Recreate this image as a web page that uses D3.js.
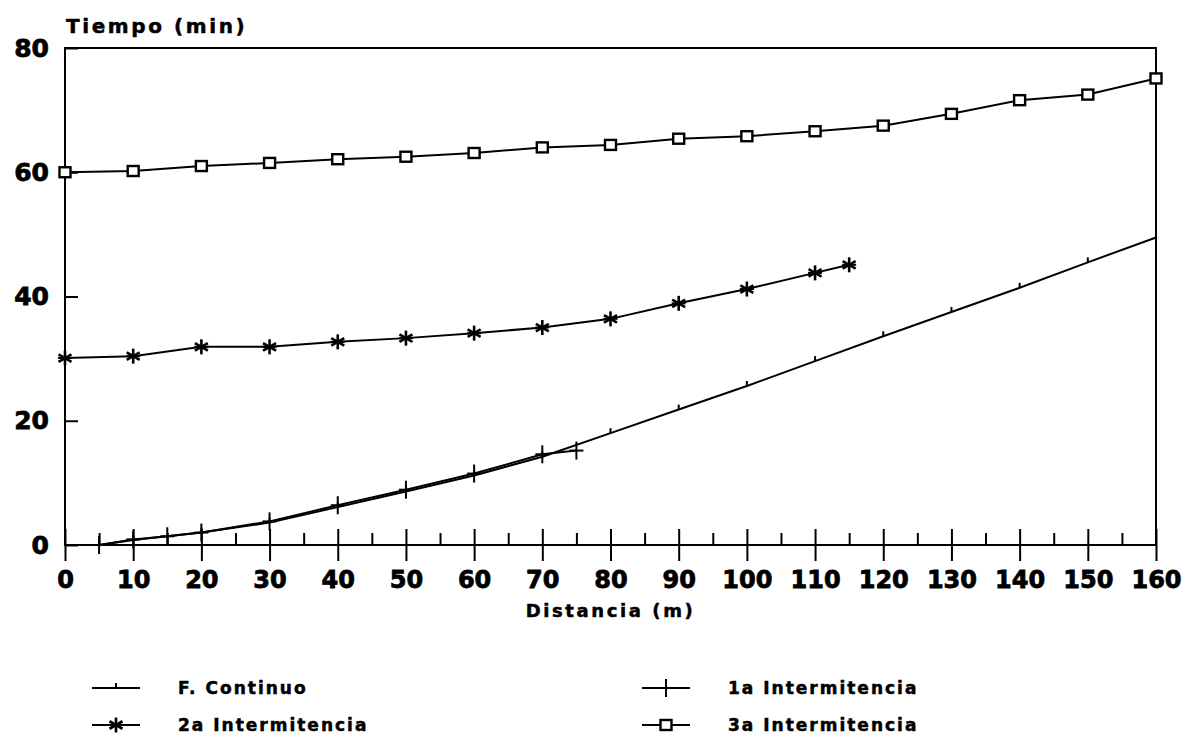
<!DOCTYPE html>
<html>
<head>
<meta charset="utf-8">
<script src="https://cdn.jsdelivr.net/npm/d3@7"></script>
<style>
  body { margin: 0; background: #fff; }
  text { font-family: "DejaVu Sans", sans-serif; font-weight: bold; fill: #000; }
</style>
</head>
<body>
<div id="chart"></div>
<script>

var svgWidth = 1184;
var svgHeight = 746;

var margin = { top: 48, right: 28, bottom: 201, left: 65 };
var width = svgWidth - margin.left - margin.right;
var height = svgHeight - margin.top - margin.bottom;

// data
var xTicks = [0, 10, 20, 30, 40, 50, 60, 70, 80, 90, 100, 110, 120, 130, 140, 150, 160];
var yTicks = [0, 20, 40, 60, 80];

var contDist = [5, 10, 20, 30, 40, 50, 60, 70, 80, 90, 100, 110, 120, 130, 140, 150, 160];
var contTime = [0, 0.8, 2, 3.6, 6.1, 8.6, 11.2, 14.2, 18, 21.8, 25.6, 29.6, 33.6, 37.5, 41.4, 45.5, 49.5];

var int1Dist = [5, 10, 15, 20, 30, 40, 50, 60, 70, 75];
var int1Time = [0, 0.9, 1.4, 2, 3.8, 6.4, 8.9, 11.5, 14.6, 15.2];

var int2Dist = [0, 10, 20, 30, 40, 50, 60, 70, 80, 90, 100, 110, 115];
var int2Time = [30.1, 30.4, 31.9, 31.9, 32.7, 33.3, 34.1, 35, 36.4, 38.9, 41.2, 43.8, 45.1];

var int3Dist = [0, 10, 20, 30, 40, 50, 60, 70, 80, 90, 100, 110, 120, 130, 140, 150, 160];
var int3Time = [60, 60.2, 61, 61.5, 62.1, 62.5, 63.1, 64, 64.4, 65.4, 65.8, 66.6, 67.5, 69.4, 71.6, 72.5, 75.1];

var seriesNames = ["F. Continuo", "1a Intermitencia", "2a Intermitencia", "3a Intermitencia"];

var series = [
    { name: seriesNames[0], marker: "tick", xs: contDist, ys: contTime },
    { name: seriesNames[1], marker: "plus", xs: int1Dist, ys: int1Time },
    { name: seriesNames[2], marker: "star", xs: int2Dist, ys: int2Time },
    { name: seriesNames[3], marker: "square", xs: int3Dist, ys: int3Time }
];

var svg = d3.select("#chart")
    .append("svg")
    .attr("width", svgWidth)
    .attr("height", svgHeight);

var chartGroup = svg.append("g")
    .attr("transform", `translate(${margin.left}, ${margin.top})`);

var xLinearScale = d3.scaleLinear().domain([0, 160]).range([0, width]);
var yLinearScale = d3.scaleLinear().domain([0, 80]).range([height, 0]);

// frame
chartGroup.append("rect")
    .attr("x", 0).attr("y", 0)
    .attr("width", width).attr("height", height)
    .attr("fill", "none")
    .attr("stroke", "#000")
    .attr("stroke-width", 2);

// x axis, major ticks cross the axis line
var bottomAxis = d3.axisBottom(xLinearScale)
    .tickValues(xTicks)
    .tickFormat(d3.format("d"))
    .tickSize(16)
    .tickPadding(10);

var xAxis = chartGroup.append("g")
    .attr("transform", `translate(0, ${height})`)
    .call(bottomAxis);

xAxis.select(".domain").remove();
xAxis.selectAll(".tick line")
    .attr("y1", -16)
    .attr("stroke-width", 2);
xAxis.selectAll(".tick text")
    .style("font-size", "24px")
    .style("font-family", "DejaVu Sans")
    .style("font-weight", "bold")
    .attr("stroke", "#000")
    .attr("stroke-width", 0.8);

// minor ticks at the fives, inside only
var minorAxis = d3.axisBottom(xLinearScale)
    .tickValues(d3.range(5, 160, 10))
    .tickFormat("")
    .tickSize(-12);

var xMinor = chartGroup.append("g")
    .attr("transform", `translate(0, ${height})`)
    .call(minorAxis);
xMinor.select(".domain").remove();
xMinor.selectAll(".tick line").attr("stroke-width", 2);

// y axis, ticks point inward
var leftAxis = d3.axisLeft(yLinearScale)
    .tickValues(yTicks)
    .tickSize(-13)
    .tickPadding(16);

var yAxis = chartGroup.append("g").call(leftAxis);
yAxis.select(".domain").remove();
yAxis.selectAll(".tick line").attr("stroke-width", 2);
yAxis.selectAll(".tick text")
    .style("font-size", "25px")
    .style("font-family", "DejaVu Sans")
    .style("font-weight", "bold")
    .attr("stroke", "#000")
    .attr("stroke-width", 0.8);

// axis titles
svg.append("text")
    .attr("x", 66)
    .attr("y", 33)
    .attr("stroke", "#000")
    .attr("stroke-width", 0.5)
    .style("font-size", "20px")
    .style("letter-spacing", "2.6px")
    .text("Tiempo (min)");

svg.append("text")
    .attr("x", margin.left + width / 2)
    .attr("y", 617)
    .attr("text-anchor", "middle")
    .attr("stroke", "#000")
    .attr("stroke-width", 0.5)
    .style("font-size", "18px")
    .style("letter-spacing", "2.6px")
    .text("Distancia (m)");

// markers
function drawMarker(g, type, cx, cy) {
    if (type === "tick") {
        g.append("line")
            .attr("x1", cx).attr("x2", cx)
            .attr("y1", cy).attr("y2", cy - 5)
            .attr("stroke", "#000").attr("stroke-width", 2);
    } else if (type === "plus") {
        g.append("line")
            .attr("x1", cx).attr("x2", cx)
            .attr("y1", cy - 9).attr("y2", cy + 9)
            .attr("stroke", "#000").attr("stroke-width", 2);
        g.append("line")
            .attr("x1", cx - 7).attr("x2", cx + 7)
            .attr("y1", cy).attr("y2", cy)
            .attr("stroke", "#000").attr("stroke-width", 2);
    } else if (type === "star") {
        var r = 7.5;
        [0, 60, 120].forEach(function(a) {
            var rad = a * Math.PI / 180;
            g.append("line")
                .attr("x1", cx - r * Math.sin(rad)).attr("x2", cx + r * Math.sin(rad))
                .attr("y1", cy - r * Math.cos(rad)).attr("y2", cy + r * Math.cos(rad))
                .attr("stroke", "#000").attr("stroke-width", 2.6);
        });
        g.append("line")
            .attr("x1", cx - 7).attr("x2", cx + 7)
            .attr("y1", cy).attr("y2", cy)
            .attr("stroke", "#000").attr("stroke-width", 2);
    } else {
        g.append("rect")
            .attr("x", cx - 5.5).attr("y", cy - 5)
            .attr("width", 11).attr("height", 10)
            .attr("fill", "#fff")
            .attr("stroke", "#000").attr("stroke-width", 2.4);
    }
}

var line = d3.line()
    .x(d => xLinearScale(d[0]))
    .y(d => yLinearScale(d[1]));

series.forEach(function(s) {
    var pts = s.xs.map((x, i) => [x, s.ys[i]]);
    var g = chartGroup.append("g");
    g.append("path")
        .datum(pts)
        .attr("d", line)
        .attr("fill", "none")
        .attr("stroke", "#000")
        .attr("stroke-width", 2);
    pts.forEach(function(p) {
        drawMarker(g, s.marker, xLinearScale(p[0]), yLinearScale(p[1]));
    });
});

// legend
var legendPos = [
    { x: 92, y: 688 },
    { x: 642, y: 688 },
    { x: 92, y: 725 },
    { x: 642, y: 725 }
];

var legend = svg.append("g");
series.forEach(function(s, i) {
    var p = legendPos[i];
    var g = legend.append("g");
    g.append("line")
        .attr("x1", p.x).attr("x2", p.x + 48)
        .attr("y1", p.y).attr("y2", p.y)
        .attr("stroke", "#000").attr("stroke-width", 2);
    drawMarker(g, s.marker, p.x + 24, p.y);
    g.append("text")
        .attr("x", p.x + 86)
        .attr("y", p.y + 6)
        .attr("stroke", "#000")
        .attr("stroke-width", 0.5)
        .style("font-size", "17px")
        .style("letter-spacing", "2px")
        .text(s.name);
});

</script>
</body>
</html>
